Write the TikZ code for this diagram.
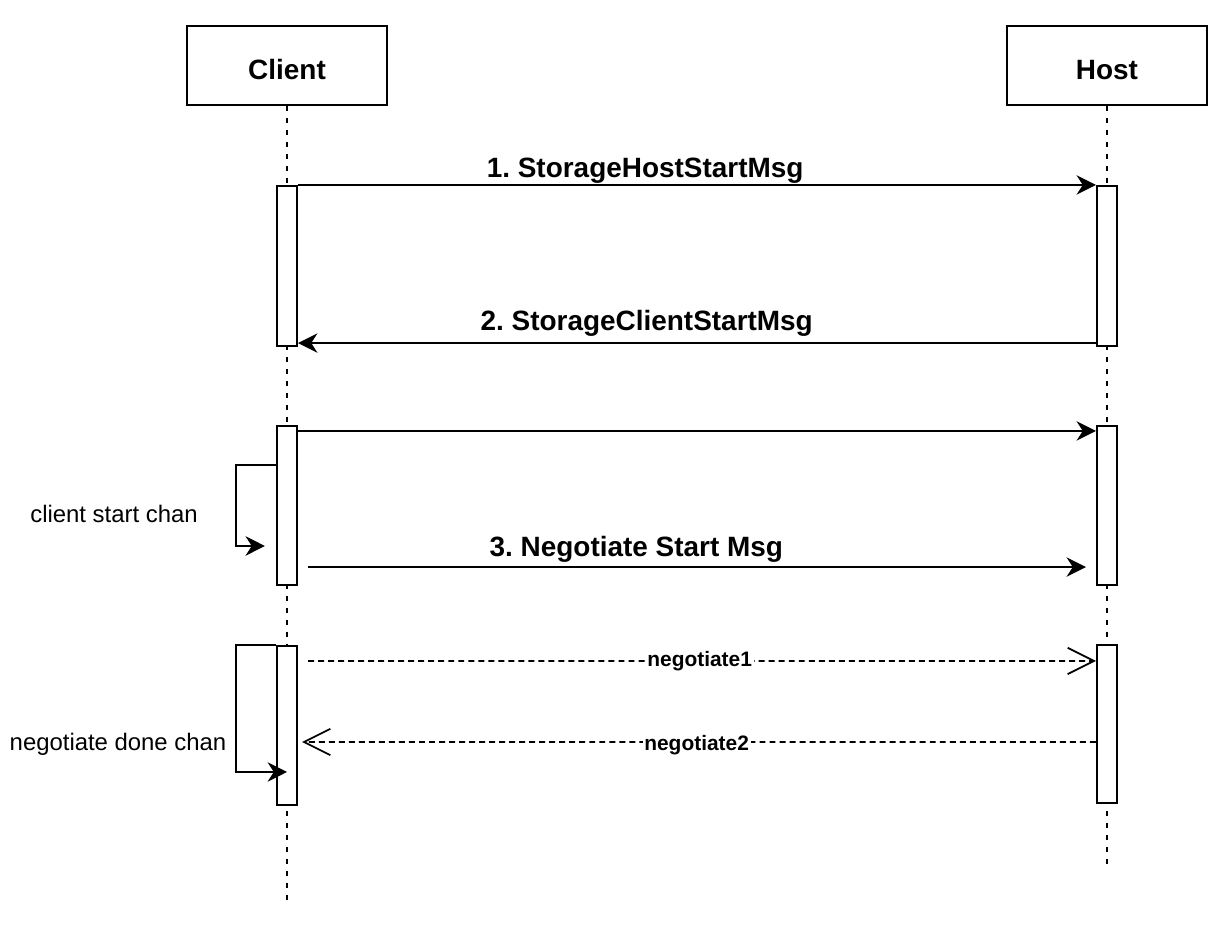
\documentclass[tikz,border=0pt]{standalone}
\usepackage{fontspec}
\setmainfont{Liberation Sans}
\frenchspacing
\usepackage{tikz}
\usetikzlibrary{arrows.meta}
\tikzstyle{actor}=[draw, line width=1.2pt, minimum width=4cm, minimum height=1.58cm, inner sep=0pt, text height=0.56cm, font=\fontsize{15.9}{19}\selectfont\bfseries]
\tikzstyle{act}=[draw, line width=1.2pt, fill=white, minimum width=0.4cm, inner sep=0pt]
\tikzstyle{life}=[line width=1.2pt, dash pattern=on 3pt off 3.8pt]
\tikzstyle{msg}=[line width=1.3pt, -{Stealth[length=11pt,width=11pt,inset=3.5pt]}]
\tikzstyle{reply}=[line width=1pt, dash pattern=on 3.4pt off 2.3pt, -{Straight Barb[length=15pt,width=15pt]}]
\tikzstyle{msglabel}=[font=\fontsize{15.9}{19}\selectfont\bfseries, inner sep=0pt, anchor=base]
\tikzstyle{replylabel}=[font=\fontsize{11.9}{14}\selectfont\bfseries, fill=white, inner sep=1pt]
\tikzstyle{note}=[font=\fontsize{13.6}{16}\selectfont]

\begin{document}
\begin{tikzpicture}[x=0.02cm, y=-0.02cm]
\useasboundingbox (0,0) rectangle (1230,928);
\node[actor] (client) at (287,65.5){Client};
\node[actor] (host) at (1107,65.5){Host};
\coordinate (clientEnd) at (287,905);
\coordinate (hostEnd) at (1107,865);
\draw[life] (client) -- (clientEnd);
\draw[life] (host) -- (hostEnd);

\node[act, minimum height=3.2cm] (c1) at (287,266){};
\node[act, minimum height=3.18cm] (c2) at (287,505.5){};
\node[act, minimum height=3.18cm] (c3) at (287,725.5){};
\node[act, minimum height=3.2cm] (h1) at (1107,266){};
\node[act, minimum height=3.18cm] (h2) at (1107,505.5){};
\node[act, minimum height=3.16cm] (h3) at (1107,724){};

\draw[msg] (c1.north east) to
node[msglabel, pos=0.435, yshift=0.14cm] {1. StorageHostStartMsg} (h1.north west);
\draw[msg] ([yshift=0.08cm]h1.south west) to
node[msglabel, pos=0.563, yshift=0.26cm] {2. StorageClientStartMsg} ([yshift=0.08cm]c1.south east);
\draw[msg] ([yshift=-0.12cm]c2.north east) to ([yshift=-0.12cm]h2.north west);
\draw[msg] ([xshift=0.2cm,yshift=0.38cm]c2.south east) to
node[msglabel, pos=0.422, yshift=0.22cm] {3. Negotiate Start Msg} ([xshift=-0.2cm,yshift=0.38cm]h2.south west);

\draw[msg] ([yshift=0.81cm]c2.west) -- ++(-40,0) |- ([xshift=-0.22cm,yshift=-0.81cm]c2.west);
\node[note] (startchan) at (114,514){client start chan};

\draw[reply] ([xshift=0.2cm,yshift=-0.32cm]c3.north east) to
node[replylabel, pos=0.497] {negotiate1} ([yshift=-0.34cm]h3.north west);
\draw[reply] ([yshift=-0.36cm]h3.west) to
node[replylabel, pos=0.503, yshift=-0.06cm] {negotiate2} ([xshift=0.08cm,yshift=-0.33cm]c3.east);

\draw[msg] (c3.north west) -- ++(-40,0) |- ([yshift=-0.93cm]c3.center);
\node[note] (donechan) at (118,744){negotiate done chan};
\end{tikzpicture}
\end{document}
